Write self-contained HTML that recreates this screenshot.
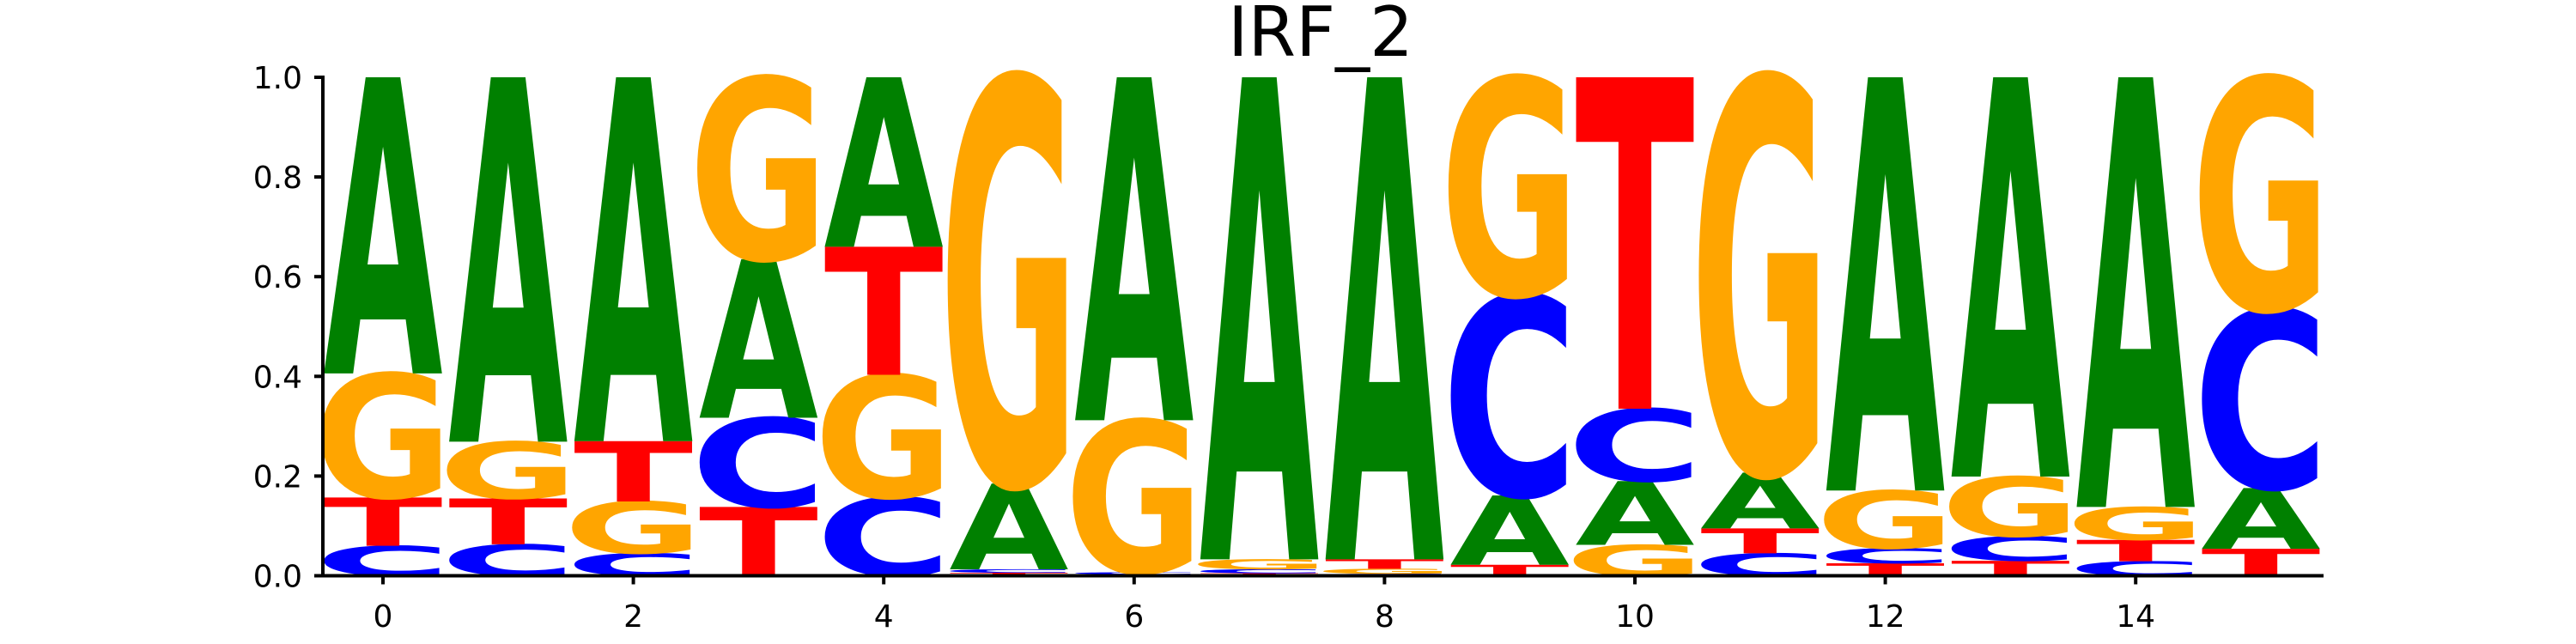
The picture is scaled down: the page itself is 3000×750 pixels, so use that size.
<!DOCTYPE html>
<html><head><meta charset="utf-8"><style>
html,body{margin:0;padding:0;background:#fff;width:3000px;height:750px;overflow:hidden;}
svg{display:block;font-family:"DejaVu Sans","Liberation Sans",sans-serif;}
</style></head><body>
<svg id="chart" width="3000" height="750" viewBox="0 0 3000 750" xmlns="http://www.w3.org/2000/svg">
<text x="1538" y="65" font-size="80" text-anchor="middle" fill="#000">IRF_2</text>
<g id="letters"></g>
<g id="axes"></g>
</svg>
<script>
// positions 0..15; each stack listed bottom-to-top as [letter, height]
const positions = [0,1,2,3,4,5,6,7,8,9,10,11,12,13,14,15];
const stackLetters = [
 ["C","T","G","A"],["C","T","G","A"],["C","G","T","A"],["T","C","A","G"],
 ["C","G","T","A"],["T","C","A","G"],["T","C","G","A"],["T","C","G","A"],
 ["C","G","T","A"],["T","A","C","G"],["G","A","C","T"],["C","T","A","G"],
 ["T","C","G","A"],["T","C","G","A"],["C","T","G","A"],["T","A","C","G"]
];
const stackHeights = [
 [0.06,0.097,0.249,0.594],[0.063,0.092,0.114,0.731],[0.045,0.104,0.121,0.73],[0.138,0.179,0.318,0.365],
 [0.157,0.246,0.257,0.34],[0.006,0.007,0.172,0.815],[0.003,0.004,0.305,0.688],[0.005,0.008,0.02,0.967],
 [0.004,0.01,0.019,0.967],[0.022,0.139,0.402,0.437],[0.062,0.128,0.145,0.665],[0.045,0.05,0.112,0.793],
 [0.025,0.03,0.116,0.829],[0.03,0.049,0.12,0.801],[0.029,0.043,0.066,0.862],[0.054,0.122,0.358,0.466]
];
const yTicks = [0,0.2,0.4,0.6,0.8,1.0];
const yTickLabels = ["0.0","0.2","0.4","0.6","0.8","1.0"];
const xTicks = [0,2,4,6,8,10,12,14];
const xTickLabels = ["0","2","4","6","8","10","12","14"];

const NS="http://www.w3.org/2000/svg";
function xs(v){return 446+145.8*v;}
function ys(v){return 670.5-580.5*v;}
const colors={A:"#008000",C:"#0000ff",G:"#ffa500",T:"#ff0000"};
const inkW={A:0.77,C:0.64,G:0.70,T:0.68};
const capH=72.9;
const lg=document.getElementById('letters');
positions.forEach((p,i)=>{
  let base=0;
  stackLetters[i].forEach((L,j)=>{
    const h=stackHeights[i][j];
    const hpx=ys(0)-ys(h);
    const wpx=(xs(0.475)-xs(-0.475));
    const sx=wpx/(inkW[L]*100), sy=hpx/capH;
    const t=document.createElementNS(NS,'text');
    
    
    t.setAttribute('x','0');t.setAttribute('y','0');
    t.setAttribute('font-size','100');t.setAttribute('font-weight','bold');
    t.setAttribute('text-anchor','middle');t.setAttribute('fill',colors[L]);
    t.setAttribute('transform','translate('+xs(p)+','+ys(base)+') scale('+sx+','+sy+')');
    t.textContent=L;
    lg.appendChild(t);
    base+=h;
  });
});
const ax=document.getElementById('axes');
function line(x1,y1,x2,y2,name){
  const l=document.createElementNS(NS,'line');
  
  
  l.setAttribute('x1',x1);l.setAttribute('y1',y1);l.setAttribute('x2',x2);l.setAttribute('y2',y2);
  l.setAttribute('stroke','#000');l.setAttribute('stroke-width','4');
  ax.appendChild(l);
}
line(376,ys(1)-2,376,ys(0)+2,'y-axis-spine');
line(374,ys(0),2706,ys(0),'x-axis-spine');
yTicks.forEach((v,i)=>{
  line(366,ys(v),376,ys(v),'y-tick');
  const t=document.createElementNS(NS,'text');
  
  
  t.setAttribute('x','352');t.setAttribute('y',ys(v)+13);
  t.setAttribute('font-size','36');t.setAttribute('text-anchor','end');
  t.textContent=yTickLabels[i];ax.appendChild(t);
});
xTicks.forEach((v,i)=>{
  line(xs(v),ys(0),xs(v),ys(0)+10,'x-tick');
  const t=document.createElementNS(NS,'text');
  
  
  t.setAttribute('x',xs(v));t.setAttribute('y','730');
  t.setAttribute('font-size','36');t.setAttribute('text-anchor','middle');
  t.textContent=xTickLabels[i];ax.appendChild(t);
});
</script>
</body></html>
